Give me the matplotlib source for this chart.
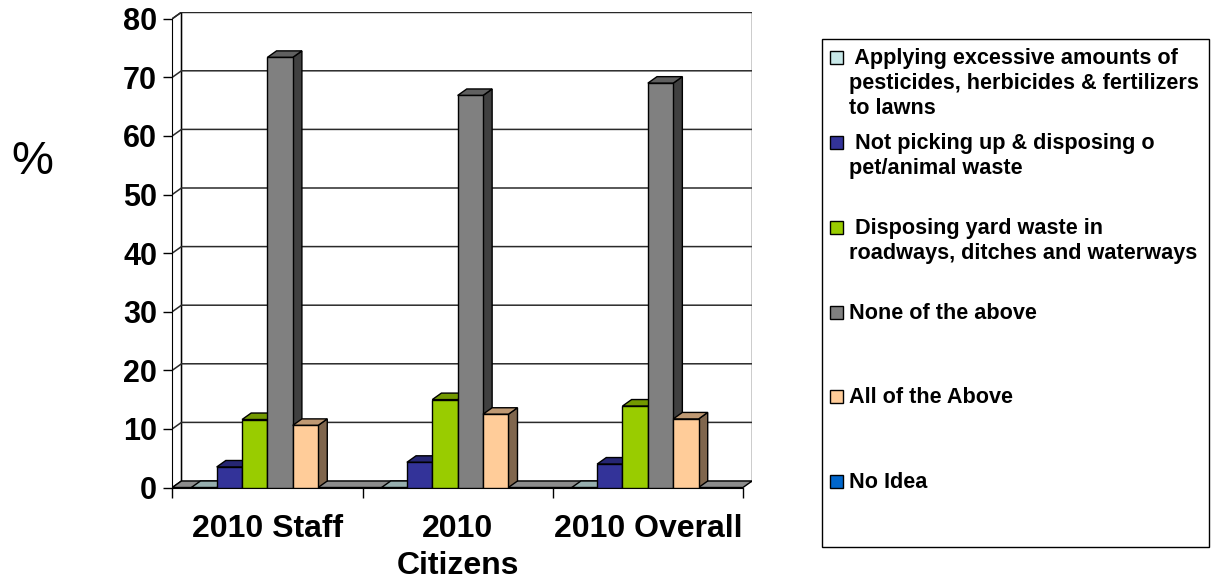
import matplotlib
matplotlib.use("Agg")
import matplotlib.pyplot as plt
import matplotlib.patches as patches
from matplotlib.colors import to_rgb

plt.rcParams['font.family'] = ['Liberation Sans', 'DejaVu Sans']
plt.rcParams['font.weight'] = 'bold'

# Data
categories = ['2010 Staff', '2010\nCitizens', '2010 Overall']
series_names = [
    ' Applying excessive amounts of\npesticides, herbicides & fertilizers\nto lawns',
    ' Not picking up & disposing o\npet/animal waste',
    ' Disposing yard waste in\nroadways, ditches and waterways',
    'None of the above',
    'All of the Above',
    'No Idea',
]
applying = [0, 0, 0]
not_picking = [3.5, 4.3, 4.0]
yard_waste = [11.6, 15.0, 13.9]
none_above = [73.4, 66.9, 69.0]
all_above = [10.6, 12.5, 11.7]
no_idea = [None, None, None]
series_colors = ['#C8E8E8', '#333399', '#99CC00', '#808080', '#FFCC99', '#0066CC']
y_ticks = list(range(0, 81, 10))

series_values = [applying, not_picking, yard_waste, none_above, all_above, no_idea]


def shade(color, f):
    r, g, b = to_rgb(color)
    return (r * f, g * f, b * f)


W, H = 1212, 582
fig = plt.figure(figsize=(W / 100, H / 100), dpi=100)

# depth offset of the 3d look, in data units
DX, DY = 0.048, 1.11
ymax = y_ticks[-1]
ncat = len(categories)

ax = fig.add_axes([172.3 / W, 1 - 487.5 / H, 579.8 / W, 475.3 / H])
ax.set_xlim(0, ncat + DX)
ax.set_ylim(0, ymax + DY)

# walls
ax.add_patch(patches.Rectangle((DX, DY), ncat, ymax, facecolor='white',
                               edgecolor='black', linewidth=1, zorder=1))
ax.add_patch(patches.Polygon([(0, 0), (DX, DY), (DX, ymax + DY), (0, ymax)],
                             facecolor='white', edgecolor='black', linewidth=1, zorder=1))
for v in y_ticks[1:]:
    ax.plot([0, DX, ncat + DX], [v, v + DY, v + DY], color='#2a2a2a', linewidth=1.1, zorder=1.5)

# floor
ax.add_patch(patches.Polygon([(0, 0), (ncat, 0), (ncat + DX, DY), (DX, DY)],
                             facecolor='#8C8C8C', edgecolor='black', linewidth=1, zorder=2))

# bars
nser = len(series_values)
bw = 0.8 / nser
z = 3.0
for c in range(ncat):
    for i, vals in enumerate(series_values):
        v = vals[c]
        if v is None:
            continue
        x0 = c + 0.1 + i * bw
        col = series_colors[i]
        side = patches.Polygon([(x0 + bw, 0), (x0 + bw + DX, DY), (x0 + bw + DX, v + DY), (x0 + bw, v)],
                               facecolor=shade(col, 0.5), edgecolor='black', linewidth=1, zorder=z)
        top = patches.Polygon([(x0, v), (x0 + bw, v), (x0 + bw + DX, v + DY), (x0 + DX, v + DY)],
                              facecolor=shade(col, 0.75), edgecolor='black', linewidth=1, zorder=z + 0.001)
        front = patches.Rectangle((x0, 0), bw, v, facecolor=col, edgecolor='black',
                                  linewidth=1, zorder=z + 0.002)
        ax.add_patch(side)
        ax.add_patch(top)
        ax.add_patch(front)
        z += 0.01

# axes styling
for s in ['top', 'right']:
    ax.spines[s].set_visible(False)
ax.spines['left'].set_bounds(0, ymax)
ax.spines['bottom'].set_bounds(0, ncat)
ax.set_yticks(y_ticks)
ax.tick_params(axis='y', length=6.5, width=1, pad=4.5, labelsize=22)
ax.set_xticks(range(ncat + 1))
ax.set_xticklabels([])
ax.set_xticks([c + 0.5 for c in range(ncat)], minor=True)
ax.set_xticklabels(categories, minor=True)
ax.tick_params(axis='x', which='major', length=7, width=1)
ax.tick_params(axis='x', which='minor', length=0, pad=19, labelsize=23)
for lab in ax.get_xticklabels(minor=True):
    lab.set_linespacing(1.3)

fig.text(32 / W, 1 - 162 / H, '%', fontsize=34, fontweight='normal', ha='center', va='center')

# legend drawn by hand so that entries are evenly spaced
fig.patches.append(patches.Rectangle((821.7 / W, 1 - 547 / H), (1209 - 821.7) / W, (547 - 39.3) / H,
                                     transform=fig.transFigure, fill=False,
                                     edgecolor='black', linewidth=1))
leg_size = 15.6
for i, name in enumerate(series_names):
    cy = 57.7 + i * 84.8
    fig.patches.append(patches.Rectangle((830 / W, 1 - (cy + 6.5) / H), 13 / W, 13 / H,
                                         transform=fig.transFigure, facecolor=series_colors[i],
                                         edgecolor='black', linewidth=1))
    first, _, rest = name.partition('\n')
    fig.text(849.3 / W, 1 - (cy + 6.5) / H, first, fontsize=leg_size, ha='left', va='baseline')
    if rest:
        for j, line in enumerate(rest.split('\n')):
            fig.text(849.3 / W, 1 - (cy + 6.5 + 25 * (j + 1)) / H, line,
                     fontsize=leg_size, ha='left', va='baseline')

fig.savefig('out.png', dpi=100, facecolor='white')
